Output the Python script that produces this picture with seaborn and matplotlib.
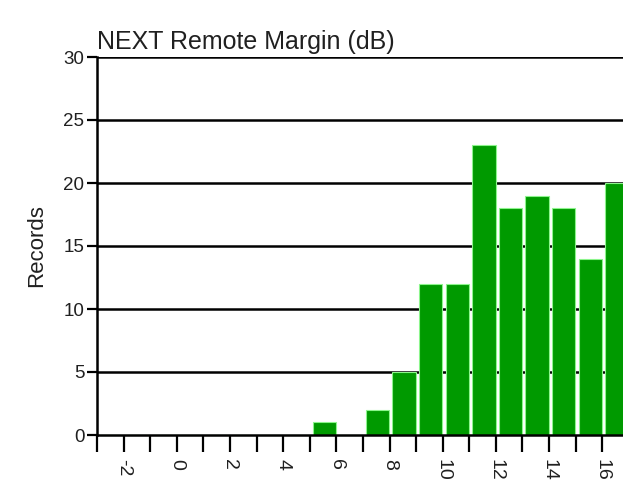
import numpy as np
import pandas as pd
import matplotlib
matplotlib.use('Agg')
import matplotlib.pyplot as plt
import seaborn as sns

# Histogram data: left edge of each 1 dB bin and number of records in it
bin_start = [5, 7, 8, 9, 10, 11, 12, 13, 14, 15, 16]
records = [1, 2, 5, 12, 12, 23, 18, 19, 18, 14, 20]
x_labels = [-2, 0, 2, 4, 6, 8, 10, 12, 14, 16]
y_ticks = [0, 5, 10, 15, 20, 25, 30]

df = pd.DataFrame({'margin': np.array(bin_start) + 0.55, 'records': records})

sns.set_style('white')
plt.rcParams['font.family'] = ['Liberation Sans', 'DejaVu Sans']
plt.rcParams['text.color'] = '#202020'
plt.rcParams['xtick.color'] = '#202020'
plt.rcParams['ytick.color'] = '#202020'
plt.rcParams['axes.labelcolor'] = '#202020'

fig = plt.figure(figsize=(6.23, 4.99), dpi=100)
ax = fig.add_axes([97 / 623, 64 / 499, 1 - 97 / 623, 378 / 499])

# horizontal grid lines behind the bars
for y in y_ticks[1:]:
    ax.axhline(y, color='black', lw=1.8, zorder=0)

sns.histplot(data=df, x='margin', weights='records', binwidth=1, binrange=(-2.95, 17.05),
             shrink=0.88, color='#009a00', alpha=1, edgecolor='#8cf58c',
             linewidth=0.8, ax=ax, zorder=2)

ax.set_xlim(-3, 16.78)
ax.set_ylim(0, 30)
ax.set_yticks(y_ticks)
ax.set_xticks(np.arange(-3, 17), minor=True)
ax.set_xticks(x_labels)
ax.set_xticklabels([str(v) for v in x_labels], rotation=-90, fontsize=14)
ax.tick_params(axis='x', which='both', direction='out', length=12, width=1.6,
               color='black', bottom=True, pad=5)
ax.tick_params(axis='y', direction='out', length=7, width=1.6, color='black',
               left=True, labelsize=13.5, pad=2)

for side in ['top', 'right']:
    ax.spines[side].set_visible(False)
for side in ['left', 'bottom']:
    ax.spines[side].set_color('black')
    ax.spines[side].set_linewidth(1.8)
    ax.spines[side].set_zorder(3)

ax.set_xlabel('')
ax.set_ylabel('Records', fontsize=16, labelpad=12)
ax.set_title('NEXT Remote Margin (dB)', fontsize=18, loc='left', pad=6)

fig.savefig('out.png', dpi=100)
